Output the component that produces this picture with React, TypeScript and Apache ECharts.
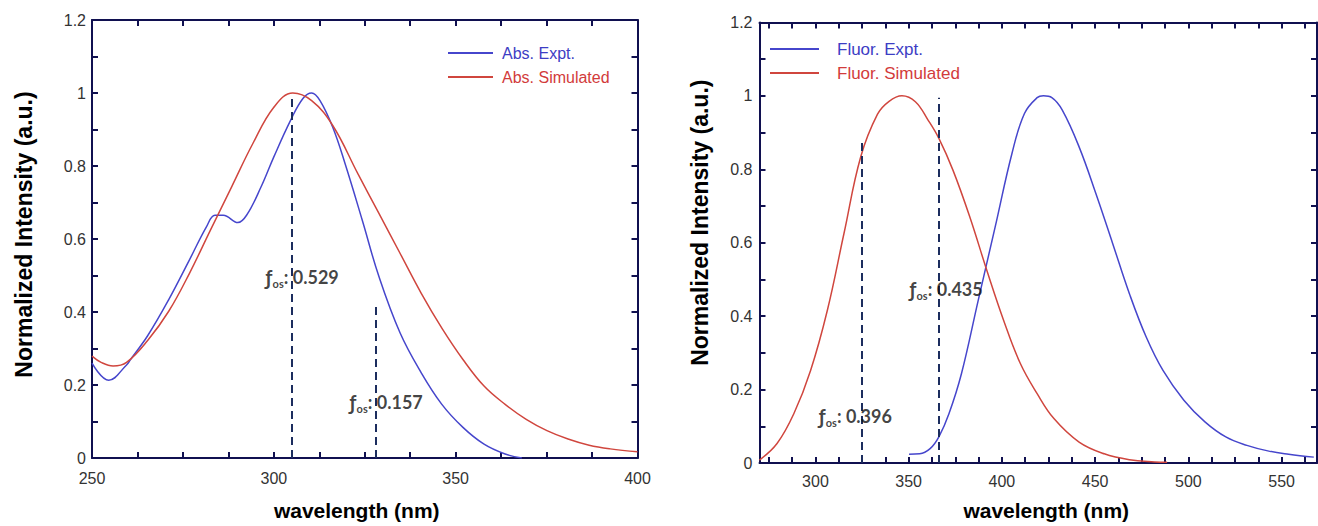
import React, { useEffect, useRef } from "react";
import * as echarts from "echarts";

// ---------- data ----------
const absExptWavelength = [250, 254.6, 259.5, 260.6, 265.3, 271.1, 276.8, 281.5, 283.8, 286.1, 290.1, 292.5, 296.5, 300, 304.6, 308, 310.4, 312.7, 316.2, 319.6, 324.3, 328.9, 334.7, 340.5, 346.2, 352, 357.8, 363.6, 368.2];
const absExptIntensity = [0.26, 0.213, 0.255, 0.27, 0.335, 0.434, 0.543, 0.634, 0.665, 0.665, 0.645, 0.665, 0.743, 0.825, 0.925, 0.985, 1.0, 0.979, 0.906, 0.806, 0.652, 0.497, 0.343, 0.234, 0.147, 0.084, 0.038, 0.011, 0.0];

const absSimWavelength = [250, 252.5, 255.8, 259.5, 265.3, 271.1, 276.8, 282.6, 288.4, 294.2, 300, 305.2, 310.4, 316.2, 323.1, 328.9, 334.7, 340.5, 346.2, 352, 357.8, 363.6, 369.4, 375.1, 380.9, 386.7, 392.5, 400];
const absSimIntensity = [0.279, 0.262, 0.252, 0.262, 0.322, 0.402, 0.506, 0.625, 0.743, 0.861, 0.961, 1.0, 0.979, 0.911, 0.779, 0.67, 0.561, 0.452, 0.356, 0.27, 0.197, 0.147, 0.106, 0.075, 0.052, 0.035, 0.025, 0.017];

const fluorExptWavelength = [350.2, 355.9, 361.5, 366.2, 371.6, 378.3, 387.3, 396.4, 405.4, 412.1, 418.9, 422.3, 426.8, 432.4, 441.4, 450.4, 459.4, 468.4, 477.4, 486.4, 497.6, 508.9, 520.1, 531.4, 542.6, 553.8, 567.3];
const fluorExptIntensity = [0.024, 0.025, 0.039, 0.071, 0.134, 0.243, 0.443, 0.643, 0.843, 0.952, 0.995, 1.0, 0.995, 0.961, 0.861, 0.734, 0.598, 0.461, 0.343, 0.252, 0.171, 0.112, 0.071, 0.048, 0.033, 0.024, 0.016];

const fluorSimWavelength = [270, 279.4, 288.4, 297.4, 306.4, 315.3, 324.3, 333.3, 339.5, 346.4, 353.6, 360.4, 366.2, 373.8, 382.8, 391.9, 400.9, 409.9, 418.9, 427.9, 441.4, 454.9, 468.4, 481.9, 488.6];
const fluorSimIntensity = [0.008, 0.053, 0.134, 0.252, 0.416, 0.625, 0.834, 0.95, 0.985, 1.0, 0.984, 0.934, 0.884, 0.797, 0.67, 0.525, 0.389, 0.271, 0.189, 0.121, 0.057, 0.025, 0.009, 0.003, 0.002];

const absSeriesNames = ["Abs. Expt.", "Abs. Simulated"];
const fluorSeriesNames = ["Fluor. Expt.", "Fluor. Simulated"];

// oscillator-strength transition lines: wavelength, line top
const absTransitionWavelength = [305, 328];
const absTransitionTop = [0.99, 0.425];
const fluorTransitionWavelength = [325, 366];
const fluorTransitionTop = [0.875, 0.995];

// labels: text, anchor wavelength, anchor intensity
const absLabelText = ["0.529", "0.157"];
const absLabelX = [307.8, 330.9];
const absLabelY = [0.496, 0.154];
const fluorLabelText = ["0.396", "0.435"];
const fluorLabelX = [321.4, 370.1];
const fluorLabelY = [0.127, 0.473];

const xTitle = "wavelength (nm)";
const yTitle = "Normalized Intensity (a.u.)";

// ---------- styles ----------
const FONT = '"Liberation Sans", Arial, Helvetica, sans-serif';
const BLUE = "#4646cc";
const RED = "#d0463e";
const BLUE_TXT = "#3d3dc4";
const RED_TXT = "#d23b3b";
const DASH = "#1c2d5e";
const FRAME = "#101050";

const zip = (xs: number[], ys: number[]) => xs.map((x, i) => [x, ys[i]]);

function tick(color: string, split?: number) {
  const t: any = { show: true, inside: true, length: 6, lineStyle: { color, width: 2 } };
  if (split) t.splitNumber = split;
  return t;
}
function axisLine(color: string) {
  return { show: true, onZero: false, lineStyle: { color, width: 2 } };
}

function xAxesFor(gridIndex: number, color: string, range: any, split: number, titleShift: number[], nameGap: number, labelMargin: number) {
  const mk = (): any => ({
    type: "value",
    gridIndex,
    min: range.min,
    max: range.max,
    interval: range.interval,
    minInterval: range.minInterval,
    maxInterval: range.maxInterval,
    axisLine: axisLine(color),
    axisTick: tick(color),
    minorTick: tick(color, split),
    splitLine: { show: false },
    minorSplitLine: { show: false },
  });
  return [
    {
      ...mk(),
      position: "bottom",
      name: xTitle,
      nameLocation: "middle",
      nameGap,
      nameTextStyle: { fontFamily: FONT, fontWeight: "bold", fontSize: 21, color: "#000", padding: titleShift },
      axisLabel: {
        show: true,
        margin: labelMargin,
        fontFamily: FONT,
        fontSize: 16,
        color: "#333",
        showMinLabel: range.showMin,
        showMaxLabel: range.showMax,
        formatter: (v: number) => (v % 50 === 0 ? String(v) : ""),
      },
    },
    { ...mk(), position: "top", axisLabel: { show: false } },
  ];
}

function yAxesFor(gridIndex: number, color: string, titleShift: number[], nameGap: number, labelMargin: number) {
  const mk = (): any => ({
    type: "value",
    gridIndex,
    min: 0,
    max: 1.2,
    interval: 0.2,
    axisLine: axisLine(color),
    axisTick: tick(color),
    minorTick: tick(color, 2),
    splitLine: { show: false },
    minorSplitLine: { show: false },
  });
  return [
    {
      ...mk(),
      position: "left",
      name: yTitle,
      nameLocation: "middle",
      nameGap,
      nameRotate: 90,
      nameTextStyle: { fontFamily: FONT, fontWeight: "bold", fontSize: 23, color: "#000", padding: titleShift },
      axisLabel: {
        show: true,
        margin: labelMargin,
        fontFamily: FONT,
        fontSize: 16,
        color: "#333",
        formatter: (v: number) => String(Math.round(v * 10) / 10),
      },
    },
    { ...mk(), position: "right", axisLabel: { show: false } },
  ];
}

function makeRich() {
  return {
    f: { fontFamily: "Lato, 'Noto Sans', sans-serif", fontWeight: "bold", fontSize: 20, color: "#111", lineHeight: 24 },
    s: { fontFamily: "Lato, 'Noto Sans', sans-serif", fontWeight: "bold", fontSize: 11, color: "#111", lineHeight: 13, verticalAlign: "bottom" },
    n: { fontFamily: "Lato, 'Noto Sans', sans-serif", fontWeight: "bold", fontSize: 18, color: "#111", lineHeight: 24 },
  };
}

function annotationSeries(axisIndex: number, lx: number[], ly: number[], texts: string[], tx: number[], ttop: number[]) {
  return {
    type: "scatter",
    xAxisIndex: axisIndex,
    yAxisIndex: axisIndex,
    symbolSize: 0,
    silent: true,
    z: 5,
    data: texts.map((t, i) => ({
      value: [lx[i], ly[i]],
      label: { show: true, position: "inside", formatter: `{f|ƒ}{s|os}{n|: ${t}}`, rich: makeRich() },
    })),
    markLine: {
      silent: true,
      symbol: "none",
      label: { show: false },
      lineStyle: { color: DASH, width: 2, type: [8, 5] },
      data: tx.map((x, i) => [{ coord: [x, 0] }, { coord: [x, ttop[i]] }]),
    },
  };
}

function lineSeries(name: string, axisIndex: number, data: number[][], color: string) {
  return {
    name,
    type: "line",
    xAxisIndex: axisIndex,
    yAxisIndex: axisIndex,
    data,
    showSymbol: false,
    smooth: 0.4,
    lineStyle: { color, width: 1.5 },
    itemStyle: { color },
    z: 3,
  };
}

export default function App() {
  const ref = useRef<HTMLDivElement>(null);

  useEffect(() => {
    if (!ref.current) return;
    const chart = echarts.init(ref.current, null, { renderer: "svg" });
    const option: any = {
      animation: false,
      backgroundColor: "#fff",
      grid: [
        { left: 92, top: 20, width: 545.5, height: 442 },
        { left: 759.5, top: 22.4, width: 557.5, height: 443.6 },
      ],
      legend: [
        {
          orient: "vertical",
          left: 448,
          top: 44,
          padding: 0,
          icon: "rect",
          itemWidth: 45,
          itemHeight: 2,
          itemGap: 6,
          selectedMode: false,
          textStyle: { fontFamily: FONT, fontSize: 16, lineHeight: 18, padding: [0, 0, 0, 4] },
          data: [
            { name: absSeriesNames[0], textStyle: { color: BLUE_TXT } },
            { name: absSeriesNames[1], textStyle: { color: RED_TXT } },
          ],
        },
        {
          orient: "vertical",
          left: 770,
          top: 40,
          padding: 0,
          icon: "rect",
          itemWidth: 49,
          itemHeight: 2,
          itemGap: 6,
          selectedMode: false,
          textStyle: { fontFamily: FONT, fontSize: 17, lineHeight: 18, padding: [0, 0, 0, 13] },
          data: [
            { name: fluorSeriesNames[0], textStyle: { color: BLUE_TXT } },
            { name: fluorSeriesNames[1], textStyle: { color: RED_TXT } },
          ],
        },
      ],
      xAxis: [
        ...xAxesFor(0, FRAME, { min: 250, max: 400, interval: 50, showMin: true, showMax: true }, 4, [0, 16, 0, 0], 42, 12),
        ...xAxesFor(1, FRAME, { min: 270, max: 569, minInterval: 50, maxInterval: 50, showMin: false, showMax: false }, 4, [0, 0, 0, 16], 37, 10),
      ],
      yAxis: [...yAxesFor(0, FRAME, [0, 0, 0, 9], 57, 6), ...yAxesFor(1, FRAME, [0, 0, 0, 40], 48, 7)],
      series: [
        lineSeries(absSeriesNames[0], 0, zip(absExptWavelength, absExptIntensity), BLUE),
        lineSeries(absSeriesNames[1], 0, zip(absSimWavelength, absSimIntensity), RED),
        annotationSeries(0, absLabelX, absLabelY, absLabelText, absTransitionWavelength, absTransitionTop),
        lineSeries(fluorSeriesNames[0], 2, zip(fluorExptWavelength, fluorExptIntensity), BLUE),
        lineSeries(fluorSeriesNames[1], 2, zip(fluorSimWavelength, fluorSimIntensity), RED),
        annotationSeries(2, fluorLabelX, fluorLabelY, fluorLabelText, fluorTransitionWavelength, fluorTransitionTop),
      ],
    };
    chart.setOption(option);
    return () => chart.dispose();
  }, []);

  return (
    <div
      ref={ref}
      style={{ position: "fixed", left: 0, top: 0, width: 1318, height: 526, background: "#fff" }}
    />
  );
}
